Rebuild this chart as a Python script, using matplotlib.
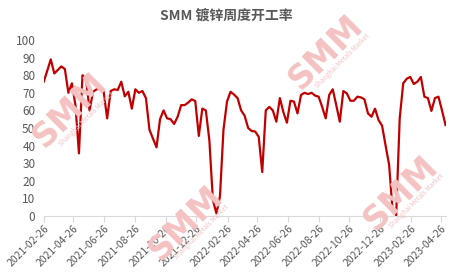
import matplotlib
matplotlib.use("Agg")
import matplotlib.pyplot as plt
import matplotlib.dates as mdates
import pandas as pd

plt.rcParams['font.family'] = ['Noto Sans CJK SC', 'DejaVu Sans']

# weekly rate (%), Fridays from 2021-02-26
start = "2021-02-26"
rate = [
    76.3, 82.5, 89.0, 81.0, 83.0, 85.0, 83.5, 70.0, 75.4, 63.0,
    35.6, 80.0, 78.0, 60.0, 70.6, 72.0, 72.5, 70.6, 55.5, 71.0,
    72.0, 71.6, 76.3, 68.0, 70.6, 61.0, 72.0, 70.0, 71.0, 67.0,
    49.0, 44.0, 39.0, 55.0, 60.0, 55.5, 55.0, 52.3, 56.4, 63.0,
    63.0, 64.5, 66.3, 65.3, 45.5, 61.0, 60.0, 43.0, 9.0, 1.5,
    11.0, 49.0, 65.0, 70.6, 69.0, 67.0, 60.0, 57.0, 50.0, 48.3,
    48.0, 45.0, 25.0, 60.0, 62.0, 60.0, 53.6, 67.0, 59.0, 53.0,
    65.5, 65.0, 58.3, 68.8, 70.0, 69.3, 70.0, 68.4, 67.8, 62.0,
    55.5, 68.8, 72.0, 63.0, 53.6, 71.0, 69.7, 65.5, 65.5, 67.8,
    67.4, 66.3, 58.3, 56.4, 61.0, 54.5, 51.3, 40.0, 29.0, 2.5,
    0.5, 55.5, 75.4, 78.0, 79.0, 75.0, 76.3, 79.0, 67.8, 67.0,
    59.7, 67.0, 67.8, 60.0, 51.7,
]
dates = pd.date_range(start, periods=len(rate), freq="7D")

title = "SMM 镀锌周度开工率"
grey = "#595959"
pink = "#F5C2C2"

fig = plt.figure(figsize=(4.53, 2.76), dpi=100)
ax = fig.add_axes([0.0965, 0.2174, 0.887, 0.6376])

ax.plot(dates, rate, color="#C00000", lw=1.6, zorder=3)

ax.set_ylim(0, 100)
ax.set_yticks(range(0, 101, 10))
ax.set_xlim(dates[0], dates[-1])
ax.xaxis.set_major_locator(mdates.MonthLocator(bymonth=[2, 4, 6, 8, 10, 12], bymonthday=26))
ax.xaxis.set_major_formatter(mdates.DateFormatter("%Y-%m-%d"))

for s in ["top", "right", "left"]:
    ax.spines[s].set_visible(False)
ax.spines["bottom"].set_color("#D9D9D9")
ax.tick_params(axis="y", length=0, labelsize=8.5, labelcolor=grey, pad=6)
ax.tick_params(axis="x", length=4, color="#D9D9D9", labelsize=7.5, labelcolor=grey, pad=1)
for lab in ax.get_xticklabels():
    lab.set_rotation(45)
    lab.set_ha("right")
    lab.set_rotation_mode("anchor")

fig.text(0.5, 0.945, title, ha="center", va="center", fontsize=10,
         fontweight="bold", color=grey)

# SMM watermarks
for x, y in [(0.155, 0.60), (0.41, 0.19), (0.72, 0.81), (0.885, 0.30)]:
    fig.text(x, y, "SMM", rotation=45, ha="center", va="center", fontsize=24,
             fontweight="heavy", family="DejaVu Sans", color=pink, zorder=0)
    fig.text(x + 0.035, y - 0.03, "Shanghai Metals Market", rotation=45, ha="center",
             va="center", fontsize=4.8, color=pink, zorder=0)

fig.savefig("out.png", dpi=100)
